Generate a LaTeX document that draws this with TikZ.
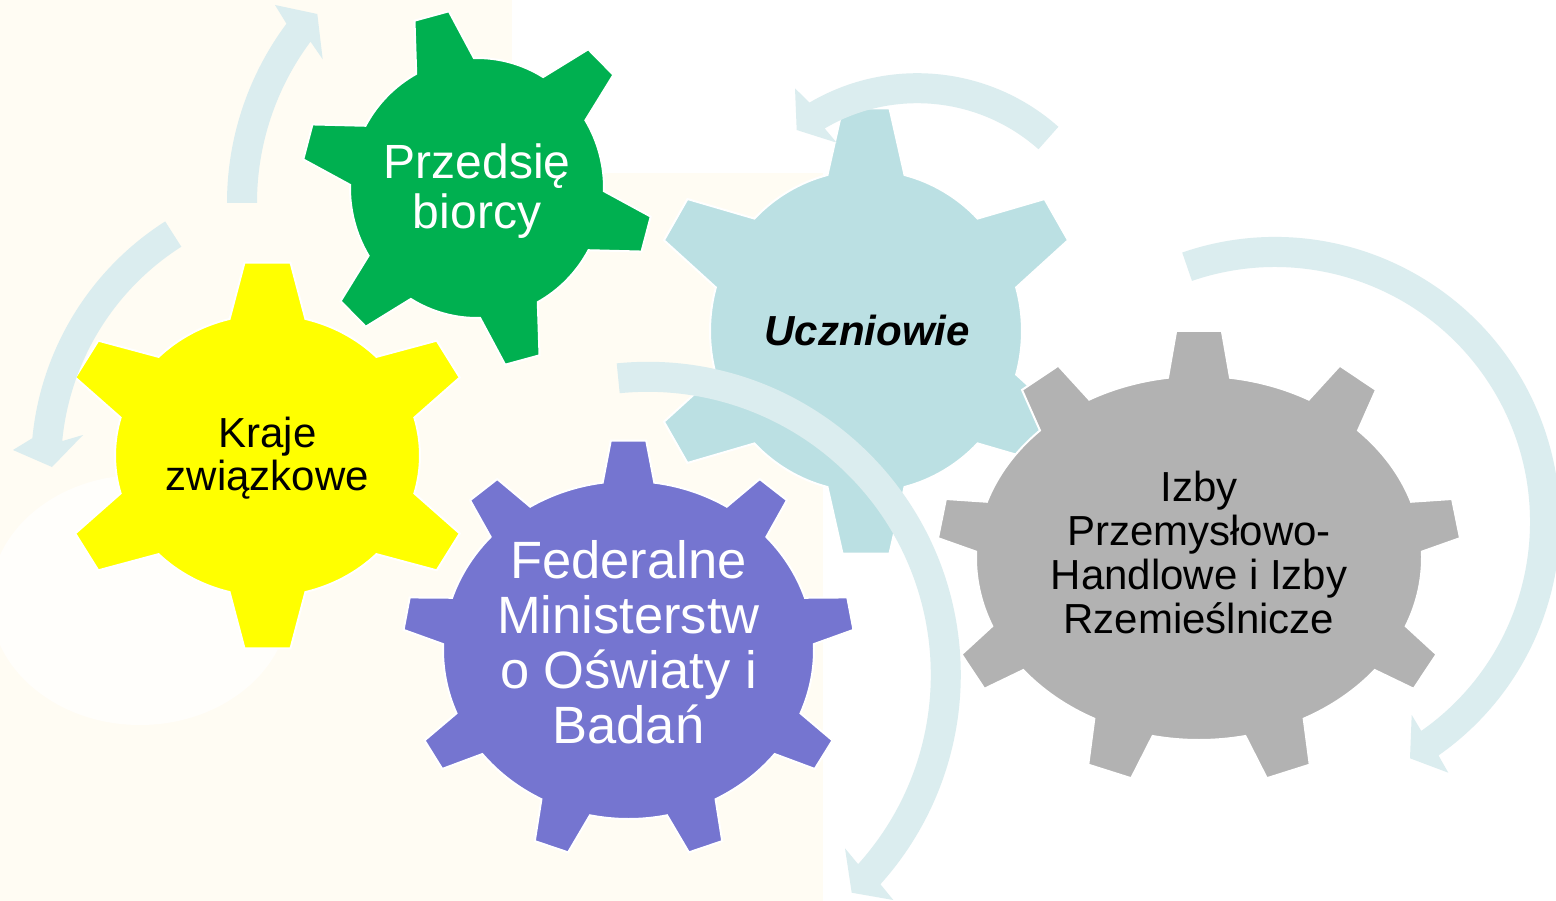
\documentclass[tikz,border=0pt]{standalone}
\usepackage{fontspec}
\setmainfont{Liberation Sans}
\definecolor{gGreen}{RGB}{0,176,80}
\definecolor{gYellow}{RGB}{255,255,0}
\definecolor{gBlue}{RGB}{187,224,227}
\definecolor{gPurple}{RGB}{117,117,208}
\definecolor{gGray}{RGB}{178,178,178}
\definecolor{arrowcol}{RGB}{219,237,239}
\definecolor{cream}{RGB}{255,252,243}
% gear outline: #1 options, #2 cx, #3 cy, #4 Rx, #5 Ry (body), #6 Tx, #7 Ty (tips), #8 base half-angle, #9 tip half-angle
\newcommand{\gearpath}[9]{%
  \path[#1,shift={(#2,#3)}] ({#4*cos(\gfirst-#8)},{#5*sin(\gfirst-#8)})
    \foreach \ga/\gb in \gteeth {
      -- ({#6*cos(\ga-#9)},{#7*sin(\ga-#9)})
      -- ({#6*cos(\ga+#9)},{#7*sin(\ga+#9)})
      -- ({#4*cos(\ga+#8)},{#5*sin(\ga+#8)})
      arc[start angle=\ga+#8, end angle=\gb-#8, x radius=#4, y radius=#5]
    } -- cycle;}
\begin{document}
\begin{tikzpicture}[x=1pt,y=-1pt,
  gearbox/.style={draw=white,line width=2pt,line join=miter},
  circarrow/.style={fill=arrowcol},
  gtext/.style={align=center,inner sep=0pt}]
\useasboundingbox (0,0) rectangle (1556,901);
\fill[white] (0,0) rectangle (1556,901);
% faint background
\fill[cream] (0,0) rectangle (512,173);
\fill[cream] (0,173) rectangle (823,901);
\fill[white,opacity=0.7] (140,600) ellipse [x radius=150, y radius=125];

% gears
\def\gfirst{-90}\def\gteeth{-90/-30,-30/30,30/90,90/150,150/210,210/270}
\gearpath{gearbox,fill=gBlue}{866}{331}{156}{161}{221}{224}{14.3}{6.1}

\def\gfirst{-90}\def\gteeth{-90/-52.5,-52.5/-10,-10/30,30/70,70/110,110/150,150/190,190/232.5,232.5/270}
\gearpath{gearbox,fill=gGray}{1199}{558}{223}{182}{262}{228}{8}{5}

\def\gfirst{-90}\def\gteeth{-90/-50,-50/-10,-10/30,30/70,70/110,110/150,150/190,190/230,230/270}
\gearpath{gearbox,fill=gPurple}{628.5}{650}{185.5}{169}{226}{210}{8}{4.5}

\def\gfirst{-105}\def\gteeth{-105/-45,-45/15,15/75,75/135,135/195,195/255}
\gearpath{gearbox,fill=gGreen}{477}{188}{127}{130}{176}{179}{13.6}{5.8}

\def\gfirst{-90}\def\gteeth{-90/-30,-30/30,30/90,90/150,150/210,210/270}
\gearpath{gearbox,fill=gYellow}{267.5}{455.5}{152.5}{141}{210}{194}{14.4}{6.3}

% circular arrows
\fill[circarrow] ({527+300*cos(180)},{203+300*sin(180)}) arc[start angle=180, end angle=216.7, radius=300]
  -- (275,5) -- (317.3,14) -- (322.7,59.3)
  -- ({527+270*cos(216.7)},{203+270*sin(216.7)}) arc[start angle=216.7, end angle=180, radius=270] -- cycle;
\fill[circarrow] ({321+290*cos(237.5)},{466+290*sin(237.5)}) arc[start angle=237.5, end angle=185.5, radius=290]
  -- (13,450) -- (52,467) -- (83,435)
  -- ({321+260*cos(185.5)},{466+260*sin(185.5)}) arc[start angle=185.5, end angle=237.5, radius=260] -- cycle;
\fill[circarrow] ({917.3+212.5*cos(-48.4)},{285.7+212.5*sin(-48.4)}) arc[start angle=-48.4, end angle=-120.5, radius=212.5]
  -- (795,88.3) -- (796.7,130) -- (836.7,142.7)
  -- ({917.3+182.5*cos(-120.5)},{285.7+182.5*sin(-120.5)}) arc[start angle=-120.5, end angle=-48.4, radius=182.5] -- cycle;
\fill[circarrow] ({1275+285*cos(-109)},{522+285*sin(-109)}) arc[start angle=-109, end angle=55, radius=285]
  -- (1448.3,772.7) -- (1410,758.3) -- (1411.7,715)
  -- ({1275+255*cos(55)},{522+255*sin(55)}) arc[start angle=55, end angle=-109, radius=255] -- cycle;
\fill[circarrow] ({647.8+313*cos(-95.7)},{674.8+313*sin(-95.7)}) arc[start angle=-95.7, end angle=42, radius=313]
  -- (893.3,900) -- (851.7,892.7) -- (845,848.3)
  -- ({647.8+283*cos(42)},{674.8+283*sin(42)}) arc[start angle=42, end angle=-95.7, radius=283] -- cycle;

% texts
\node[gtext,text=white,font=\fontsize{48}{49.5}\selectfont] (tGreen) at (477,191) {Przedsię\\biorcy};
\node[gtext,text=black,font=\fontsize{42}{43.5}\selectfont] (tYellow) at (267.5,458) {Kraje\\związkowe};
\node[gtext,text=black,font=\fontsize{42}{43.5}\selectfont\bfseries\itshape] (tBlue) at (867,330) {Uczniowie};
\node[gtext,text=white,font=\fontsize{52.5}{55}\selectfont] (tPurple) at (628.5,642.5) {Federalne\\Ministerstw\\o Oświaty i\\Badań};
\node[gtext,text=black,font=\fontsize{42}{44}\selectfont] (tGray) at (1199,552) {Izby\\Przemysłowo-\\Handlowe i Izby\\Rzemieślnicze};
\end{tikzpicture}
\end{document}
